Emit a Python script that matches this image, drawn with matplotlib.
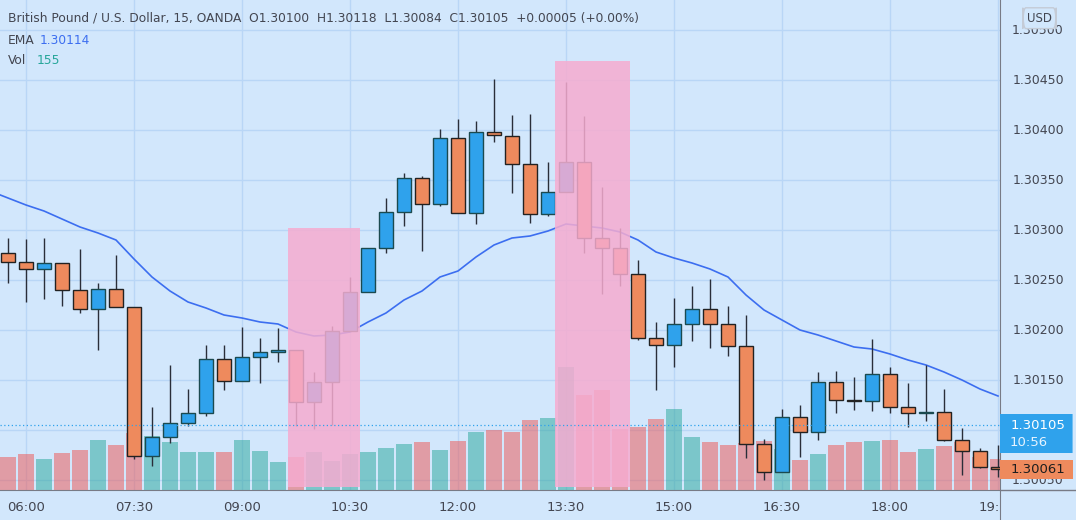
import matplotlib.pyplot as plt
from matplotlib.patches import Rectangle, FancyBboxPatch

# GBP/USD 15 min bars, 05:45 -> 19:30
opens = [1.30277, 1.30268, 1.30261, 1.30267, 1.30240, 1.30221, 1.30241, 1.30223,
         1.30074, 1.30093, 1.30107, 1.30117, 1.30171, 1.30149, 1.30173, 1.30178,
         1.30180, 1.30128, 1.30148, 1.30199, 1.30238, 1.30282, 1.30318, 1.30352,
         1.30326, 1.30392, 1.30317, 1.30398, 1.30394, 1.30366, 1.30316, 1.30338,
         1.30368, 1.30292, 1.30282, 1.30256, 1.30192, 1.30185, 1.30206, 1.30221,
         1.30206, 1.30184, 1.30086, 1.30058, 1.30113, 1.30098, 1.30148, 1.30130,
         1.30129, 1.30156, 1.30123, 1.30117, 1.30118, 1.30090, 1.30079, 1.30063]
highs = [1.30292, 1.30291, 1.30292, 1.30267, 1.30281, 1.30247, 1.30275, 1.30223,
         1.30123, 1.30165, 1.30141, 1.30185, 1.30185, 1.30203, 1.30192, 1.30202,
         1.30180, 1.30158, 1.30204, 1.30253, 1.30282, 1.30332, 1.30357, 1.30354,
         1.30401, 1.30411, 1.30409, 1.30451, 1.30415, 1.30416, 1.30368, 1.30448,
         1.30414, 1.30343, 1.30302, 1.30270, 1.30208, 1.30232, 1.30244, 1.30251,
         1.30224, 1.30215, 1.30091, 1.30121, 1.30125, 1.30158, 1.30159, 1.30153,
         1.30191, 1.30163, 1.30147, 1.30165, 1.30141, 1.30102, 1.30082, 1.30085]
lows = [1.30247, 1.30228, 1.30231, 1.30224, 1.30217, 1.30180, 1.30223, 1.30071,
        1.30064, 1.30087, 1.30104, 1.30114, 1.30140, 1.30149, 1.30147, 1.30168,
        1.30104, 1.30101, 1.30105, 1.30199, 1.30238, 1.30277, 1.30304, 1.30279,
        1.30324, 1.30317, 1.30306, 1.30388, 1.30337, 1.30307, 1.30314, 1.30338,
        1.30277, 1.30236, 1.30244, 1.30190, 1.30140, 1.30163, 1.30189, 1.30182,
        1.30174, 1.30072, 1.30050, 1.30058, 1.30073, 1.30090, 1.30117, 1.30120,
        1.30119, 1.30117, 1.30103, 1.30109, 1.30089, 1.30055, 1.30062, 1.30053]
closes = [1.30268, 1.30261, 1.30267, 1.30240, 1.30221, 1.30241, 1.30223, 1.30074,
          1.30093, 1.30107, 1.30117, 1.30171, 1.30149, 1.30173, 1.30178, 1.30180,
          1.30128, 1.30148, 1.30199, 1.30238, 1.30282, 1.30318, 1.30352, 1.30326,
          1.30392, 1.30317, 1.30398, 1.30395, 1.30366, 1.30316, 1.30338, 1.30368,
          1.30292, 1.30282, 1.30256, 1.30192, 1.30185, 1.30206, 1.30221, 1.30206,
          1.30184, 1.30086, 1.30058, 1.30113, 1.30098, 1.30148, 1.30130, 1.30129,
          1.30156, 1.30123, 1.30117, 1.30118, 1.30090, 1.30079, 1.30063, 1.30061]
volumes = [167, 178, 157, 187, 198, 248, 223, 287, 270, 240, 190, 190, 190, 250,
           195, 142, 167, 190, 147, 182, 190, 212, 232, 240, 198, 247, 288, 302,
           292, 350, 362, 613, 473, 498, 307, 317, 355, 407, 267, 240, 223, 237,
           245, 203, 150, 182, 225, 240, 245, 248, 192, 203, 220, 242, 167, 155]
# EMA starts one bar earlier (05:30)
ema = [1.30339, 1.30332, 1.30325, 1.30319, 1.30311, 1.30303, 1.30297, 1.30290,
       1.30271, 1.30253, 1.30239, 1.30228, 1.30222, 1.30215, 1.30212, 1.30208,
       1.30206, 1.30198, 1.30194, 1.30195, 1.30198, 1.30208, 1.30217, 1.30230,
       1.30239, 1.30253, 1.30259, 1.30273, 1.30285, 1.30292, 1.30294, 1.30299,
       1.30306, 1.30304, 1.30302, 1.30298, 1.30290, 1.30278, 1.30272, 1.30267,
       1.30261, 1.30253, 1.30235, 1.30220, 1.30210, 1.30200, 1.30195, 1.30189,
       1.30183, 1.30181, 1.30176, 1.30170, 1.30165, 1.30158, 1.30150, 1.30141,
       1.30134]

time_ticks = [1, 7, 13, 19, 25, 31, 37, 43, 49, 55]
time_labels = ["06:00", "07:30", "09:00", "10:30", "12:00", "13:30", "15:00",
               "16:30", "18:00", "19:30"]
price_levels = [1.30050, 1.30100, 1.30150, 1.30200, 1.30250, 1.30300, 1.30350,
                1.30400, 1.30450, 1.30500]

# pink highlighted zones (bar index span, top price)
zone_start = [15.54, 30.39]
zone_end = [19.56, 34.56]
zone_top = [1.30302, 1.30469]

last_price = 1.30105
last_close = 1.30061

bg = "#d2e7fc"
grid_c = "#b9d6f6"
up_c = "#2fa2ec"
down_c = "#ee8a5d"
txt_c = "#434651"

W, H = 1076, 520
fig = plt.figure(figsize=(W / 100, H / 100), dpi=100)
fig.patch.set_facecolor(bg)

rect = [0, 30 / H, 1000 / W, 490 / H]
vax = fig.add_axes(rect, zorder=0)
ax = fig.add_axes(rect, zorder=1)
ax.patch.set_visible(False)
vax.set_facecolor(bg)

n = len(opens)
xs = list(range(n))
xlim = (-8 / 18, 992 / 18)
for a in (ax, vax):
    a.set_xlim(*xlim)
    for s in a.spines.values():
        s.set_visible(False)
ax.set_ylim(1.30040, 1.30530)
vax.set_ylim(0, 2450)
vax.set_xticks([])
vax.set_yticks([])

# grid lives on the bottom axes so volume covers it half-transparently
for t in time_ticks:
    vax.axvline(t, color=grid_c, lw=1, zorder=0)
for p in price_levels:
    vax.axhline((p - 1.30040) / 0.00001 * 5, color=grid_c, lw=1, zorder=0)

up = [c >= o for o, c in zip(opens, closes)]
vcols = ["#26a69a" if u else "#ef5350" for u in up]
vax.bar(xs, volumes, width=0.94, color=vcols, alpha=0.5, zorder=1)

# EMA
ax.plot(range(-1, n), ema, color="#3c6ef0", lw=1.2, zorder=2)

# candles
ax.vlines(xs, lows, highs, color="#2a2e39", lw=1, zorder=3)
bottoms = [min(o, c) for o, c in zip(opens, closes)]
heights = [max(abs(c - o), 0.000012) for o, c in zip(opens, closes)]
ax.bar(xs, heights, bottom=bottoms, width=0.74,
       color=[up_c if u else down_c for u in up],
       edgecolor=["#1b4a4f" if u else "#222222" for u in up],
       linewidth=1, zorder=4)

for s, e, t in zip(zone_start, zone_end, zone_top):
    ax.add_patch(Rectangle((s, 1.30043), e - s, t - 1.30043,
                           facecolor="#f6acd0", alpha=0.85, lw=0, zorder=5))

ax.axhline(last_price, color=up_c, lw=0.9, ls=(0, (1, 2)), zorder=6)

ax.set_yticks([])
ax.set_xticks(time_ticks)
ax.set_xticklabels(time_labels, fontsize=9.5, color=txt_c)
ax.tick_params(axis="x", length=0, pad=8)
ax.spines["bottom"].set_visible(True)
ax.spines["bottom"].set_color("#787b86")

# price scale panel
pax = fig.add_axes([1000 / W, 0, 76 / W, 1], zorder=10)
pax.set_facecolor(bg)
pax.set_xlim(0, 1)
pax.set_ylim(1.30010, 1.30530)
pax.set_xticks([])
pax.set_yticks([])
for k, s in pax.spines.items():
    s.set_visible(k == "left")
pax.spines["left"].set_color("#787b86")
pax.axhline(1.30040, color="#787b86", lw=1)
for p in price_levels:
    if p == 1.30100:
        continue  # hidden under the last-price tag
    pax.text(0.5, p, f"{p:.5f}", ha="center", va="center", fontsize=9,
             color=txt_c, zorder=1)

pax.add_patch(FancyBboxPatch((0.3, 0.945), 0.44, 0.04,
                             boxstyle="round,pad=0,rounding_size=0.04",
                             transform=pax.transAxes, facecolor=bg,
                             edgecolor="#c4cbd6", lw=1, zorder=4))
pax.text(0.52, 0.965, "USD", transform=pax.transAxes, ha="center",
         va="center", fontsize=8.5, color=txt_c, zorder=5)

pax.add_patch(FancyBboxPatch((0, last_price - 0.00028), 0.955, 0.00039,
                             boxstyle="round,pad=0,rounding_size=0.00003",
                             mutation_aspect=1, facecolor=up_c, lw=0,
                             zorder=4))
pax.text(0.5, last_price, f"{last_price:.5f}", ha="center", va="center",
         fontsize=9.5, color="white", zorder=5)
pax.text(0.38, last_price - 0.000175, "10:56", ha="center", va="center",
         fontsize=9.5, color="#e6f3ff", zorder=5)
pax.add_patch(Rectangle((0, last_close - 0.000095), 0.955, 0.00019,
                        facecolor=down_c, lw=0, zorder=4))
pax.text(0.5, last_close, f"{last_close:.5f}", ha="center", va="center",
         fontsize=9.5, color="#1e1e1e", zorder=5)

# legend
fig.text(8 / W, 1 - 18 / H,
         "British Pound / U.S. Dollar, 15, OANDA  O1.30100  H1.30118  "
         "L1.30084  C1.30105  +0.00005 (+0.00%)",
         fontsize=8.8, color=txt_c, va="center")
fig.text(8 / W, 1 - 40 / H, "EMA", fontsize=8.8, color=txt_c, va="center")
fig.text(40 / W, 1 - 40 / H, "1.30114", fontsize=8.8, color="#3c6ef0",
         va="center")
fig.text(8 / W, 1 - 61 / H, "Vol", fontsize=8.8, color=txt_c, va="center")
fig.text(37 / W, 1 - 61 / H, "155", fontsize=8.8, color="#26a69a",
         va="center")

fig.savefig("out.png", dpi=100, facecolor=bg)
